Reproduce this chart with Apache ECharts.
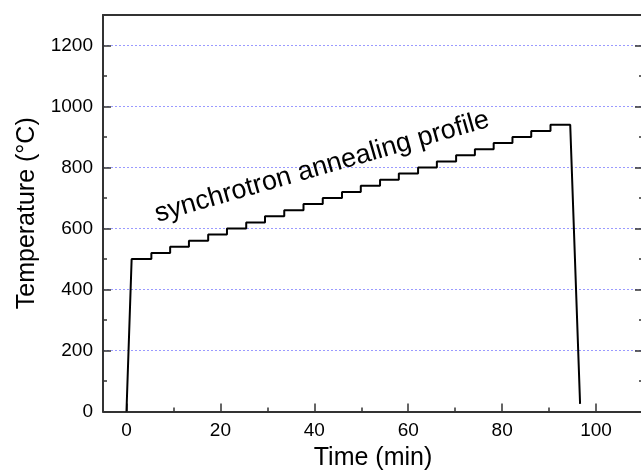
<!DOCTYPE html>
<html>
<head>
<meta charset="utf-8">
<script src="https://cdn.jsdelivr.net/npm/echarts@6/dist/echarts.min.js"></script>
<style>
html,body{margin:0;padding:0;background:#fff;}
#c{width:641px;height:470px;}
</style>
</head>
<body>
<div id="c"></div>
<script>
// ---- data ----
const levelTemps = [500,520,540,560,580,600,620,640,660,680,700,720,740,760,780,800,820,840,860,880,900,920,940];
const levelStartTimes = [1.1,5.3,9.3,13.3,17.4,21.4,25.5,29.5,33.6,37.7,41.8,45.9,49.9,54.0,58.0,62.1,66.1,70.2,74.2,78.2,82.2,86.2,90.3];
const rampStartPoint = [0, 0];
const holdEndTime = 94.5;
const coolEndPoint = [96.6, 25];
const xMajorTicks = [0,20,40,60,80,100];
const xMinorTicks = [10,30,50,70,90];
const yMajorTicks = [0,200,400,600,800,1000,1200];
const yMinorTicks = [100,300,500,700,900,1100];
const annotationText = 'synchrotron annealing profile';

// ---- build polyline ----
const profile = [rampStartPoint];
for (let i = 0; i < levelTemps.length; i++) {
  const t0 = levelStartTimes[i];
  const t1 = i + 1 < levelStartTimes.length ? levelStartTimes[i + 1] : holdEndTime;
  profile.push([t0, levelTemps[i]]);
  profile.push([t1, levelTemps[i]]);
}
profile.push(coolEndPoint);

const FONT = "'Liberation Sans', Arial, sans-serif";
const AX = '#333';
const plain = v => String(v);
const chart = echarts.init(document.getElementById('c'), null, {renderer: 'canvas'});

function xAx(extra) {
  return Object.assign({
    type: 'value', min: -5, max: 110, position: 'bottom', gridIndex: 0,
    axisLine: {show: false, onZero: false}, axisTick: {show: false}, axisLabel: {show: false},
    splitLine: {show: false}, minorTick: {show: false}
  }, extra);
}
function yAx(extra) {
  return Object.assign({
    type: 'value', min: 0, max: 1300, interval: 200, position: 'left', gridIndex: 0,
    axisLine: {show: false, onZero: false}, axisTick: {show: false}, axisLabel: {show: false},
    splitLine: {show: false}, minorTick: {show: false}
  }, extra);
}

chart.setOption({
  animation: false,
  backgroundColor: '#fff',
  grid: {left: 103, top: 15, width: 540, height: 396.5, containLabel: false, outerBoundsMode: 'none'},
  xAxis: [
    xAx({
      axisLine: {show: true, onZero: false, lineStyle: {color: AX, width: 2}},
      axisTick: {show: true, inside: true, length: 8, customValues: xMajorTicks, lineStyle: {color: AX, width: 1.5}},
      axisLabel: {show: true, customValues: xMajorTicks, formatter: plain, margin: 10, color: '#000', fontSize: 19, fontFamily: FONT},
      name: 'Time (min)', nameLocation: 'middle', nameGap: 32,
      nameTextStyle: {color: '#000', fontSize: 25, fontFamily: FONT}
    }),
    xAx({
      axisLine: {show: false, onZero: false},
      axisTick: {show: true, inside: true, length: 4, customValues: xMinorTicks, lineStyle: {color: AX, width: 1.5}}
    }),
    xAx({
      position: 'top',
      axisLine: {show: true, onZero: false, lineStyle: {color: AX, width: 2}}
    })
  ],
  yAxis: [
    yAx({
      axisLine: {show: true, onZero: false, lineStyle: {color: AX, width: 2}},
      axisTick: {show: true, inside: true, length: 8, customValues: yMajorTicks, lineStyle: {color: AX, width: 1.5}},
      axisLabel: {show: true, customValues: yMajorTicks, formatter: plain, margin: 10, color: '#000', fontSize: 19, fontFamily: FONT},
      splitLine: {show: true, lineStyle: {color: '#9a9aff', width: 1, type: [2, 2]}},
      name: 'Temperature (°C)', nameLocation: 'middle', nameGap: 57,
      nameTextStyle: {color: '#000', fontSize: 25, fontFamily: FONT}
    }),
    yAx({
      axisLine: {show: false, onZero: false},
      axisTick: {show: true, inside: true, length: 4, customValues: yMinorTicks, lineStyle: {color: AX, width: 1.5}}
    }),
    yAx({
      position: 'right',
      axisLine: {show: true, onZero: false, lineStyle: {color: AX, width: 2}},
      axisTick: {show: true, inside: true, length: 8, customValues: yMajorTicks, lineStyle: {color: AX, width: 1.5}}
    }),
    yAx({
      position: 'right',
      axisLine: {show: false, onZero: false},
      axisTick: {show: true, inside: true, length: 4, customValues: yMinorTicks, lineStyle: {color: AX, width: 1.5}}
    })
  ],
  series: [{
    type: 'line',
    xAxisIndex: 0, yAxisIndex: 0,
    data: profile,
    symbol: 'none',
    lineStyle: {color: '#000', width: 2},
    z: 5
  }],
  graphic: [{
    type: 'text',
    x: 322, y: 167,
    rotation: 16 * Math.PI / 180,
    style: {text: annotationText, fill: '#000', font: "27px 'Liberation Sans', Arial, sans-serif", align: 'center', verticalAlign: 'middle'},
    z: 10
  }]
});
</script>
</body>
</html>
